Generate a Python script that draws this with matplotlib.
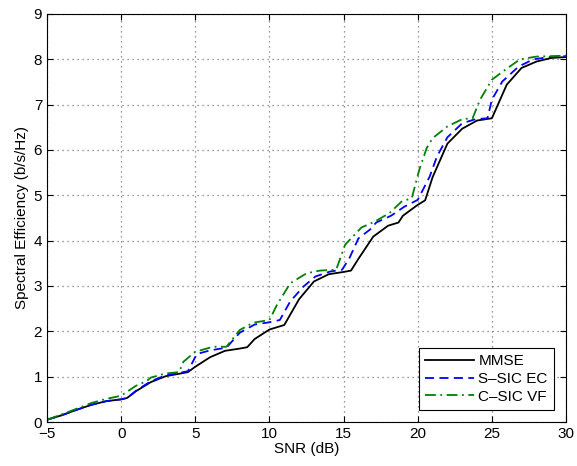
import matplotlib
matplotlib.use("Agg")
import matplotlib.pyplot as plt

plt.rcParams['font.family'] = ['Liberation Sans', 'DejaVu Sans']

# traced vertices (SNR in dB, spectral efficiency in b/s/Hz)
mmse_snr = [-5, -4, -3, -2, -1, 0, 0.4, 1, 2, 3, 4, 4.5, 5, 6, 7, 8, 8.5, 9, 10, 11,
            12, 13, 14, 15, 15.5, 16, 17, 18, 18.7, 19, 20, 20.5, 21, 22, 23, 24, 25,
            26, 27, 28, 29, 30]
mmse_se = [0.05, 0.15, 0.27, 0.38, 0.46, 0.50, 0.53, 0.68, 0.88, 1.01, 1.07, 1.10,
           1.22, 1.43, 1.57, 1.62, 1.65, 1.83, 2.04, 2.14, 2.71, 3.10, 3.26, 3.31,
           3.34, 3.60, 4.09, 4.33, 4.40, 4.55, 4.79, 4.89, 5.40, 6.14, 6.47, 6.65,
           6.70, 7.44, 7.81, 7.95, 8.03, 8.05]

ssic_snr = [-5, -4, -3, -2, -1, 0, 0.4, 1, 2, 3, 4, 4.5, 5.1, 6, 7.1, 8, 9, 10, 10.7,
            11.4, 12.3, 13.1, 14.1, 14.9, 15.4, 16, 16.8, 17.2, 18.2, 19.1, 20, 20.8,
            21.3, 22, 23, 23.9, 24.7, 25, 25.7, 26.8, 27.8, 28.9, 30]
ssic_se = [0.05, 0.15, 0.27, 0.38, 0.46, 0.50, 0.53, 0.69, 0.90, 1.03, 1.09, 1.12,
           1.50, 1.58, 1.64, 1.97, 2.15, 2.20, 2.25, 2.66, 2.99, 3.21, 3.32, 3.36,
           3.62, 4.05, 4.25, 4.40, 4.55, 4.75, 4.90, 5.41, 5.86, 6.28, 6.59, 6.68,
           6.70, 7.11, 7.51, 7.84, 8.00, 8.05, 8.07]

csic_snr = [-5, -4, -3.5, -2, -1, 0, 1, 1.7, 2, 3, 3.9, 4.2, 5, 6.2, 7.1, 8, 8.9, 10,
            10.5, 11.4, 12.5, 13.4, 14.5, 15.1, 16.2, 17.1, 18.1, 18.9, 19.6, 20.1,
            20.6, 21, 22, 23, 23.7, 24.2, 25, 25.9, 26.9, 28, 29, 30]
csic_se = [0.05, 0.17, 0.23, 0.42, 0.51, 0.58, 0.80, 0.90, 0.98, 1.07, 1.10, 1.33,
           1.55, 1.66, 1.66, 2.03, 2.19, 2.25, 2.58, 3.06, 3.28, 3.34, 3.36, 3.91,
           4.29, 4.42, 4.61, 4.86, 4.94, 5.56, 6.04, 6.26, 6.52, 6.68, 6.70, 7.11,
           7.55, 7.77, 8.00, 8.06, 8.07, 8.08]

labels = ['MMSE', 'S\u2013SIC EC', 'C\u2013SIC VF']

fig = plt.figure(figsize=(5.77, 4.66), dpi=100)
ax = fig.add_axes([0.0815, 0.0944, 0.8995, 0.8756])

ax.plot(mmse_snr, mmse_se, color='black', lw=1.3, label=labels[0])
ax.plot(ssic_snr, ssic_se, color=(0, 0, 1), lw=1.3, ls=(0, (5, 3)), label=labels[1])
ax.plot(csic_snr, csic_se, color=(0, 0.5, 0), lw=1.3, ls=(0, (6, 2.5, 1, 2.5)), label=labels[2])

ax.set_xlim(-5, 30)
ax.set_ylim(0, 9)
ax.set_xticks(range(-5, 31, 5))
ax.set_yticks(range(0, 10))
ax.grid(True, ls=(0, (1, 3)), color='#777777', lw=0.9)
ax.tick_params(direction='in', top=True, right=True, labelsize=11, length=4)
ax.set_xlabel('SNR (dB)', fontsize=11, labelpad=1)
ax.set_ylabel('Spectral Efficiency (b/s/Hz)', fontsize=11, labelpad=3)

leg = ax.legend(loc='lower right', fontsize=11, fancybox=False, framealpha=1,
                edgecolor='black', handlelength=3.2, borderaxespad=0.8,
                labelspacing=0.25, handletextpad=0.3, borderpad=0.4)
leg.get_frame().set_linewidth(0.8)

fig.savefig('out.png', dpi=100)
